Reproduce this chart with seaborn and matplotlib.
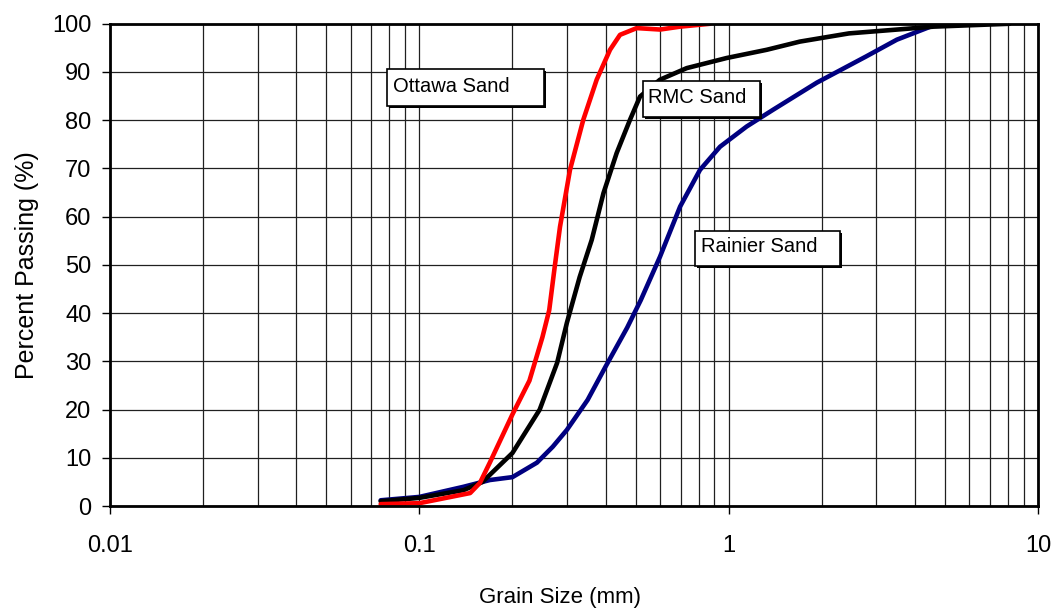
import matplotlib
matplotlib.use("Agg")
import matplotlib.pyplot as plt
import matplotlib.patheffects as pe
from matplotlib.patches import Rectangle
from matplotlib.ticker import LogLocator, FixedLocator, NullFormatter
import numpy as np
import pandas as pd
import seaborn as sns

# Grain size distributions (grain size in mm, percent passing)
ottawa_size = [0.075, 0.1, 0.146, 0.157, 0.169, 0.2, 0.227, 0.25, 0.263, 0.274, 0.285,
               0.307, 0.339, 0.3745, 0.4136, 0.4455, 0.5045, 0.60, 0.697, 0.871]
ottawa_pass = [0.4, 0.6, 2.7, 4.8, 9.0, 19.0, 26.0, 35.0, 40.6, 49.6, 57.9,
               69.7, 80.1, 88.4, 94.6, 97.7, 99.1, 98.8, 99.4, 100.0]

rmc_size = [0.075, 0.1, 0.139, 0.16, 0.2, 0.245, 0.279, 0.3, 0.33, 0.361, 0.394,
            0.4346, 0.48, 0.517, 0.60, 0.732, 0.986, 1.328, 1.70, 2.45, 4.6, 8.1]
rmc_pass = [1.0, 1.7, 3.3, 5.0, 11.0, 20.0, 29.7, 38.0, 47.5, 55.2, 64.9,
            73.2, 80.1, 84.9, 88.4, 90.8, 92.9, 94.6, 96.3, 98.0, 99.4, 100.0]

rainier_size = [0.075, 0.1, 0.139, 0.169, 0.2, 0.24, 0.27, 0.3, 0.35, 0.40, 0.47,
                0.52, 0.60, 0.697, 0.808, 0.938, 1.144, 1.395, 1.93, 2.78, 3.5, 4.75]
rainier_pass = [1.2, 1.9, 4.0, 5.4, 6.0, 9.0, 12.3, 15.8, 22.0, 28.9, 37.0,
                42.7, 51.7, 62.1, 69.7, 74.5, 78.7, 82.2, 87.8, 93.2, 96.7, 100.0]

series_names = ["Rainier Sand", "RMC Sand", "Ottawa Sand"]
series_colors = ["#000080", "#000000", "#FF0000"]

x_ticks = [0.01, 0.1, 1, 10]
x_tick_labels = ["0.01", "0.1", "1", "10"]
y_ticks = list(range(0, 101, 10))

df = pd.concat([
    pd.DataFrame({"size": rainier_size, "pass": rainier_pass, "sand": "Rainier Sand"}),
    pd.DataFrame({"size": rmc_size, "pass": rmc_pass, "sand": "RMC Sand"}),
    pd.DataFrame({"size": ottawa_size, "pass": ottawa_pass, "sand": "Ottawa Sand"}),
])

sns.set_theme(style="white")
plt.rcParams["font.family"] = ["Liberation Sans", "DejaVu Sans"]

fig = plt.figure(figsize=(10.58, 6.09), dpi=100)
ax = fig.add_axes([0.104, 0.169, 0.877, 0.792])

sns.lineplot(data=df, x="size", y="pass", hue="sand", hue_order=series_names,
             palette=series_colors, sort=False, estimator=None, linewidth=3.3,
             legend=False, ax=ax)
for line in ax.get_lines():
    line.set_solid_joinstyle("round")
    line.set_solid_capstyle("round")

ax.set_xscale("log")
ax.set_xlim(0.01, 10)
ax.set_ylim(0, 100)

ax.xaxis.set_major_locator(FixedLocator(x_ticks))
ax.set_xticklabels(x_tick_labels)
ax.xaxis.set_minor_locator(LogLocator(base=10, subs=np.arange(2, 10)))
ax.xaxis.set_minor_formatter(NullFormatter())
ax.set_yticks(y_ticks)

ax.grid(True, which="major", color="#202020", linewidth=0.9)
ax.grid(True, which="minor", axis="x", color="#202020", linewidth=0.9)
ax.set_axisbelow(True)

for side in ["left", "bottom", "top", "right"]:
    ax.spines[side].set_visible(True)
    ax.spines[side].set_color("black")
    ax.spines[side].set_linewidth(2.0)

ax.tick_params(axis="both", which="major", direction="out", length=5.5, width=1,
               color="black", labelsize=17, labelcolor="black", left=True, bottom=True)
ax.tick_params(axis="y", which="major", pad=8)
ax.tick_params(axis="x", which="major", pad=15)
ax.tick_params(axis="x", which="minor", bottom=False)

ax.set_xlabel("Grain Size (mm)", fontsize=16, color="black")
ax.xaxis.set_label_coords(0.485, -0.168)
ax.set_ylabel("Percent Passing (%)", fontsize=18, labelpad=9, color="black")

# Series labels in framed boxes with a dark drop shadow (axes-fraction placement)
label_texts = ["Ottawa Sand", "RMC Sand", "Rainier Sand"]
box_extents = [(0.2985, 0.8299, 0.1692, 0.0767),
               (0.5744, 0.8070, 0.1260, 0.0747),
               (0.6304, 0.4979, 0.1562, 0.0726)]
text_anchor = [(0.3046, 0.8595), (0.5797, 0.8355), (0.6369, 0.5276)]
for text, (bx, by, bw, bh), (tx, ty) in zip(label_texts, box_extents, text_anchor):
    rect = Rectangle((bx, by), bw, bh, transform=ax.transAxes, facecolor="white",
                     edgecolor="black", linewidth=1.2, zorder=5)
    rect.set_path_effects([
        pe.SimplePatchShadow(offset=(1.5, -1.5), shadow_rgbFace="black", alpha=1.0),
        pe.Normal(),
    ])
    ax.add_patch(rect)
    ax.text(tx, ty, text, transform=ax.transAxes, fontsize=14.5, color="black",
            ha="left", va="baseline", zorder=6)

fig.savefig("out.png", dpi=100)
